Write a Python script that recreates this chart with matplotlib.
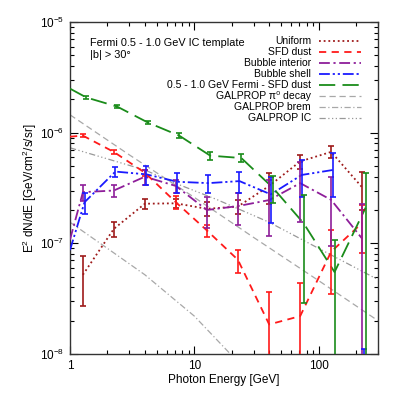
import numpy as np
import matplotlib
matplotlib.use("Agg")
import matplotlib.pyplot as plt
from matplotlib import ticker
from matplotlib.lines import Line2D

plt.rcParams['font.family'] = ['Liberation Sans', 'DejaVu Sans']
plt.rcParams['mathtext.fontset'] = 'custom'
plt.rcParams['mathtext.rm'] = 'Liberation Sans'
plt.rcParams['mathtext.it'] = 'Liberation Sans:italic'

# ---------------- data ----------------
energy = [1.27, 2.25, 4.0, 7.1, 12.6, 22.4, 40.0, 71.0, 126.0, 224.0]
line_start_energy = 1.0

uniform_val = [5.2e-8, 1.35e-7, 2.28e-7, 2.3e-7, 2.05e-7, 2.15e-7, 3.3e-7, 5.5e-7, 6.7e-7, 3.2e-7]
uniform_err = [2.5e-8, 2.1e-8, 2.3e-8, 2.0e-8, 3.0e-8, 3.0e-8, 1.05e-7, 8.0e-8, 8.0e-8, 1.2e-7]

sfd_start = 9.2e-7
sfd_val = [9.4e-7, 6.7e-7, 4.35e-7, 2.35e-7, 1.31e-7, 7.1e-8, 1.85e-8, 2.2e-8, 8.4e-8, 1.53e-7]
sfd_err = [3.0e-8, 3.0e-8, 2.5e-8, 3.0e-8, 1.65e-8, 1.65e-8, 1.75e-8, 2.15e-8, 4.9e-8, 7.1e-8]

interior_start = 1.08e-7
interior_val = [2.9e-7, 3.0e-7, 4.0e-7, 3.3e-7, 2.0e-7, 2.17e-7, 2.46e-7, 3.5e-7, 2.47e-7, 1.1e-7]
interior_err = [5.0e-8, 3.7e-8, 6.2e-8, 4.5e-8, 6.2e-8, 7.0e-8, 1.3e-7, 1.95e-7, 1.53e-7, 1.15e-7]

shell_start = 8.7e-8
shell_val = [2.35e-7, 4.45e-7, 4.2e-7, 3.6e-7, 3.5e-7, 3.65e-7, 2.77e-7, 4.15e-7, 4.6e-7, -5.0e-8]
shell_err = [5.2e-8, 4.6e-8, 8.0e-8, 7.4e-8, 6.5e-8, 7.8e-8, 1.23e-7, 1.55e-7, 2.0e-7, 6.1e-8]

fermi_start = 2.5e-6
fermi_val = [2.08e-6, 1.72e-6, 1.23e-6, 9.4e-7, 6.2e-7, 5.9e-7, 3.2e-7, 1.52e-7, 5.5e-8, 2.1e-7]
fermi_err = [5.0e-8, 5.0e-8, 4.0e-8, 5.0e-8, 5.0e-8, 5.0e-8, 9.0e-8, 1.23e-7, 5.2e-8, 2.25e-7]

galprop_pi0_E = [1.0, 3.0, 10.0, 30.0, 100.0, 300.0]
galprop_pi0 = [1.45e-6, 6.3e-7, 2.6e-7, 1.13e-7, 4.6e-8, 2.0e-8]
galprop_brem_E = [1.0, 2.0, 4.0, 10.0, 20.0, 40.0]
galprop_brem = [1.55e-7, 9.0e-8, 5.2e-8, 2.2e-8, 9.7e-9, 4.2e-9]
galprop_ic_E = [1.0, 4.0, 7.0, 15.0, 40.0, 100.0, 300.0]
galprop_ic = [7.3e-7, 4.6e-7, 3.5e-7, 2.5e-7, 1.55e-7, 9.0e-8, 4.7e-8]

x_ticks = [1, 10, 100]
x_ticklabels = ['1', '10', '100']

# ---------------- figure ----------------
W = 399.0
fig = plt.figure(figsize=(3.99, 3.99), dpi=100)
ax = fig.add_axes([70/W, 45/W, 308/W, 332/W])
ax.set_xscale('log')
ax.set_yscale('log')

series = [
    ('Uniform', uniform_val, uniform_err, None, '#9e1a1a', (0, (1, 1.6)), 1.00),
    ('SFD dust', sfd_val, sfd_err, sfd_start, '#ff1a1a', (0, (4, 3)), 1.00),
    ('Bubble interior', interior_val, interior_err, interior_start, '#8e1e9a', (0, (6, 2, 1.2, 2)), 1.00),
    ('Bubble shell', shell_val, shell_err, shell_start, '#1a1aff', (0, (6, 1.6, 1.2, 1.6, 1.2, 1.6)), 1.03),
    ('0.5 - 1.0 GeV Fermi - SFD dust', fermi_val, fermi_err, fermi_start, '#1a8c1a', (0, (9, 4)), 1.065),
]

entries = []
for label, val, err, start, color, dash, off in series:
    e = np.array(energy) * off
    v = np.array(val, dtype=float)
    er = np.array(err, dtype=float)
    vline = np.where(v > 0, v, np.nan)
    if start is not None:
        xe = np.concatenate([[line_start_energy], e])
        yv = np.concatenate([[start], vline])
    else:
        xe, yv = e, vline
    ax.plot(xe, yv, color=color, lw=1.3, linestyle=dash, zorder=3)
    ax.errorbar(e, v, yerr=er, fmt='none', ecolor=color, elinewidth=1.2,
                capsize=2.2, capthick=1.2, zorder=4)
    entries.append((label, color, dash, 1.3))

gp = [
    ('GALPROP \u03c0\u2070 decay', galprop_pi0_E, galprop_pi0, '#a8a8a8', (0, (5, 3))),
    ('GALPROP brem', galprop_brem_E, galprop_brem, '#a8a8a8', (0, (5, 2, 1, 2))),
    ('GALPROP IC', galprop_ic_E, galprop_ic, '#999999', (0, (5, 2, 1, 2, 1, 2, 1, 2))),
]
for label, xe, yv, color, dash in gp:
    ax.plot(xe, yv, color=color, lw=0.9, linestyle=dash, zorder=2)
    entries.append((label, color, dash, 0.9))

ax.set_xlim(1, 300)
ax.set_ylim(1e-8, 1e-5)

ax.xaxis.set_major_locator(ticker.FixedLocator(x_ticks))
ax.xaxis.set_major_formatter(ticker.FixedFormatter(x_ticklabels))
ax.xaxis.set_minor_locator(ticker.LogLocator(base=10, subs=np.arange(2, 10)))
ax.xaxis.set_minor_formatter(ticker.NullFormatter())
ax.yaxis.set_major_locator(ticker.LogLocator(base=10, numticks=10))
ax.yaxis.set_minor_locator(ticker.LogLocator(base=10, subs=np.arange(2, 10), numticks=10))
ax.yaxis.set_minor_formatter(ticker.NullFormatter())

ax.tick_params(which='both', direction='in', top=True, right=True, labelsize=8.5, width=0.8)
ax.tick_params(which='major', length=6, pad=4)
ax.tick_params(which='minor', length=3)
for s in ax.spines.values():
    s.set_linewidth(1.0)
    s.set_color('#333333')

ax.set_xlabel('Photon Energy [GeV]', fontsize=8.5, labelpad=2)
ax.set_ylabel('E$^2$ dN/dE [GeV/cm$^2$/s/sr]', fontsize=8.5, labelpad=1)

fig.text(90/W, 1 - 43/W, 'Fermi 0.5 - 1.0 GeV IC template', fontsize=7.8, va='center', ha='left')
fig.text(90/W, 1 - 55/W, '|b| > 30\u00b0', fontsize=7.8, va='center', ha='left')

# legend (labels right-aligned, sample line to the right)
row_y = 41.0
for label, color, dash, lw in entries:
    fig.text(311/W, 1 - row_y/W, label, fontsize=7.5, ha='right', va='center')
    fig.add_artist(Line2D([319/W, 361/W], [1 - row_y/W, 1 - row_y/W], transform=fig.transFigure,
                          color=color, lw=lw, linestyle=dash))
    row_y += 11.0

fig.savefig('out.png', dpi=100)
